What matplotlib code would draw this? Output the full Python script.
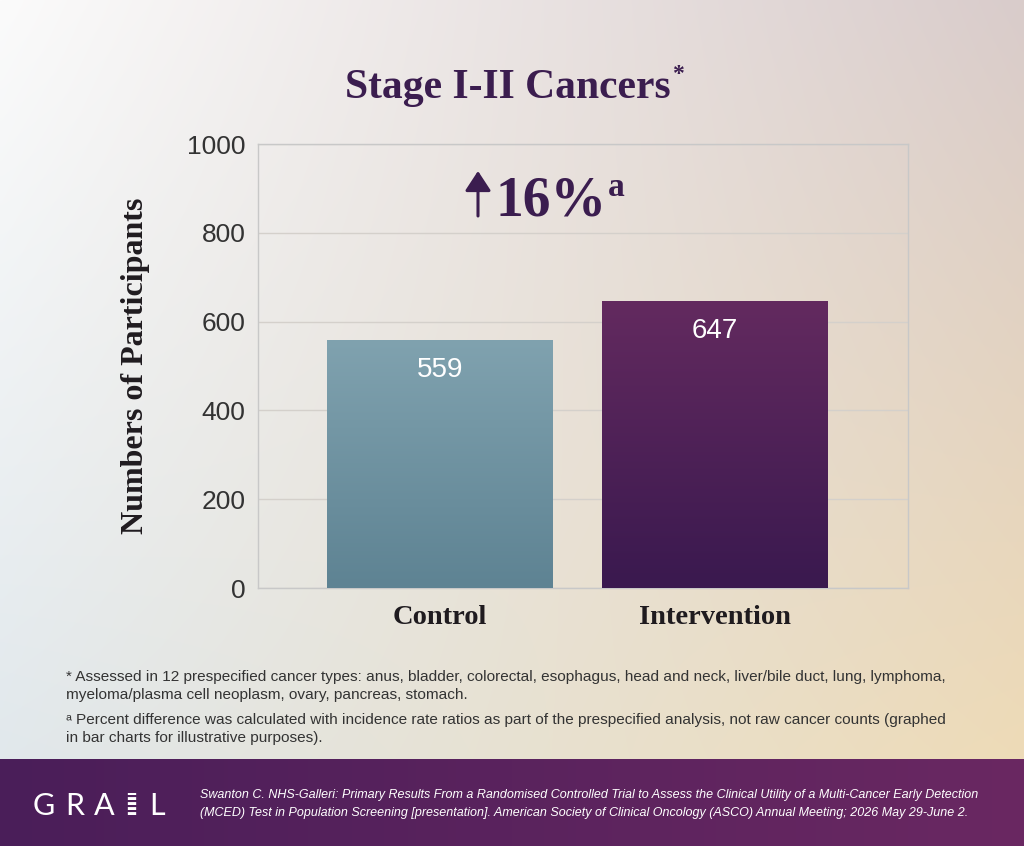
import matplotlib
matplotlib.use("Agg")
import matplotlib.pyplot as plt
from matplotlib.colors import to_rgb
from matplotlib.lines import Line2D
import numpy as np

# data
groups = ["Control", "Intervention"]
counts = [559, 647]
y_ticks = [0, 200, 400, 600, 800, 1000]
change_label = "16%"

title = "Stage I-II Cancers"
y_label = "Numbers of Participants"
note_star = ("* Assessed in 12 prespecified cancer types: anus, bladder, colorectal, esophagus, head and neck, liver/bile duct, lung, lymphoma,\n"
             "myeloma/plasma cell neoplasm, ovary, pancreas, stomach.")
note_a = ("\u1d43 Percent difference was calculated with incidence rate ratios as part of the prespecified analysis, not raw cancer counts (graphed\n"
          "in bar charts for illustrative purposes).")
citation = ("Swanton C. NHS-Galleri: Primary Results From a Randomised Controlled Trial to Assess the Clinical Utility of a Multi-Cancer Early Detection\n"
            "(MCED) Test in Population Screening [presentation]. American Society of Clinical Oncology (ASCO) Annual Meeting; 2026 May 29-June 2.")

PURPLE = "#3b1d4f"
DARK = "#1f1b1f"
SERIF = ["Liberation Serif", "DejaVu Serif"]
SANS = ["Liberation Sans", "DejaVu Sans"]

W, H = 1024, 846
fig = plt.figure(figsize=(W / 100, H / 100), dpi=100)

# background gradient (bilinear between corner colours)
bg = fig.add_axes([0, 0, 1, 1], zorder=-10)
bg.set_axis_off()
tl, tr = np.array(to_rgb("#fbfbfb")), np.array(to_rgb("#d9cccb"))
bl, br = np.array(to_rgb("#e1e8ec")), np.array(to_rgb("#eedbb7"))
u = np.linspace(0, 1, 256)[None, :, None]
v = np.linspace(0, 1, 256)[:, None, None]
grad = (1 - v) * ((1 - u) * tl + u * tr) + v * ((1 - u) * bl + u * br)
bg.imshow(grad, extent=[0, 1, 0.1017, 1], aspect="auto", interpolation="bilinear")
# purple banner
c0, c1 = np.array(to_rgb("#4a1e59")), np.array(to_rgb("#6a2862"))
band = (1 - u) * c0 + u * c1
bg.imshow(np.repeat(band, 4, axis=0), extent=[0, 1, 0, 0.1017], aspect="auto")
bg.set_xlim(0, 1)
bg.set_ylim(0, 1)

ax = fig.add_axes([258 / W, 1 - 588 / H, 650 / W, 444 / H])
ax.set_facecolor("none")
x = np.arange(len(groups))
bars = ax.bar(x, counts, width=0.82, color="none", zorder=3)
bar_cols = [("#80a2af", "#5e8393"), ("#632a5f", "#3a194f")]
for b, (top, bot) in zip(bars, bar_cols):
    g = np.linspace(0, 1, 100)[:, None, None]
    img = (1 - g) * np.array(to_rgb(top)) + g * np.array(to_rgb(bot))
    bx, by = b.get_x(), b.get_y()
    im = ax.imshow(img, extent=[bx, bx + b.get_width(), by, by + b.get_height()],
                   aspect="auto", zorder=3)
    im.set_clip_path(b)
for xi, c in zip(x, counts):
    ax.annotate(str(c), (xi, c), xytext=(0, -22), textcoords="offset points",
                ha="center", va="center", color="white", fontsize=20, family=SANS, zorder=5)

ax.set_xlim(-0.662, 1.702)
ax.set_ylim(0, 1000)
ax.set_yticks(y_ticks)
ax.set_yticklabels([str(t) for t in y_ticks], family=SANS, fontsize=19, color="#333333")
ax.set_xticks(x)
ax.set_xticklabels(groups, family=SERIF, fontsize=20.5, fontweight="bold", color=DARK)
ax.tick_params(axis="y", length=0, pad=9)
ax.tick_params(axis="x", length=0, pad=12)
ax.grid(axis="y", color="#d4d0cb", lw=1, zorder=1)
for s in ax.spines.values():
    s.set_color("#c8c8c8")
    s.set_linewidth(1)
ax.set_ylabel(y_label, family=SERIF, fontsize=23, fontweight="bold", color=DARK, labelpad=0)
ax.yaxis.set_label_coords(-0.166, 0.5)

r = fig.canvas.get_renderer()

# title with superscript asterisk
t = fig.text(0.496, 1 - 98 / H, title, ha="center", va="baseline", family=SERIF,
             fontsize=30, fontweight="bold", color=PURPLE)
bb = t.get_window_extent(r)
fig.text(bb.x1 / W + 0.001, 1 - 80 / H, "*", ha="left", va="baseline", family=SERIF,
         fontsize=17, fontweight="bold", color=PURPLE)

# percent change with arrow
ax.annotate("", xy=(478 / W, 1 - 171 / H), xytext=(478 / W, 1 - 216 / H),
            xycoords="figure fraction", textcoords="figure fraction",
            arrowprops=dict(arrowstyle="-|>,head_width=0.36,head_length=0.55", lw=2.2,
                            color=PURPLE, mutation_scale=22, shrinkA=0, shrinkB=0))
p = fig.text(495 / W, 1 - 215 / H, change_label, ha="left", va="baseline", family=SERIF,
             fontsize=40, fontweight="bold", color=PURPLE)
pb = p.get_window_extent(r)
fig.text(pb.x1 / W + 0.002, 1 - 196 / H, "a", ha="left", va="baseline", family=SERIF,
         fontsize=24, fontweight="bold", color=PURPLE)

# footnotes
fig.text(66 / W, 1 - 670 / H, note_star, ha="left", va="top", family=SANS,
         fontsize=11.1, color="#333333", linespacing=1.33)
fig.text(66 / W, 1 - 713 / H, note_a, ha="left", va="top", family=SANS,
         fontsize=11.1, color="#333333", linespacing=1.33)

# banner logo and citation
for ch, cx in zip("GRA", [44, 75, 104]):
    fig.text(cx / W, 1 - 815 / H, ch, ha="center", va="baseline", family=["Lato", "DejaVu Sans"],
             fontsize=22, color="white")
fig.text(157 / W, 1 - 815 / H, "L", ha="center", va="baseline", family=["Lato", "DejaVu Sans"],
         fontsize=22, color="white")
fig.add_artist(Line2D([132 / W, 132 / W], [1 - 815 / H, 1 - 793 / H], transform=fig.transFigure,
                      color="white", lw=6, linestyle=(0, (0.35, 0.25)), solid_capstyle="butt"))
fig.text(200 / W, 1 - 789 / H, citation, ha="left", va="top", family=SANS,
         fontsize=9, style="italic", color="white", linespacing=1.7)

fig.savefig("out.png", dpi=100)
